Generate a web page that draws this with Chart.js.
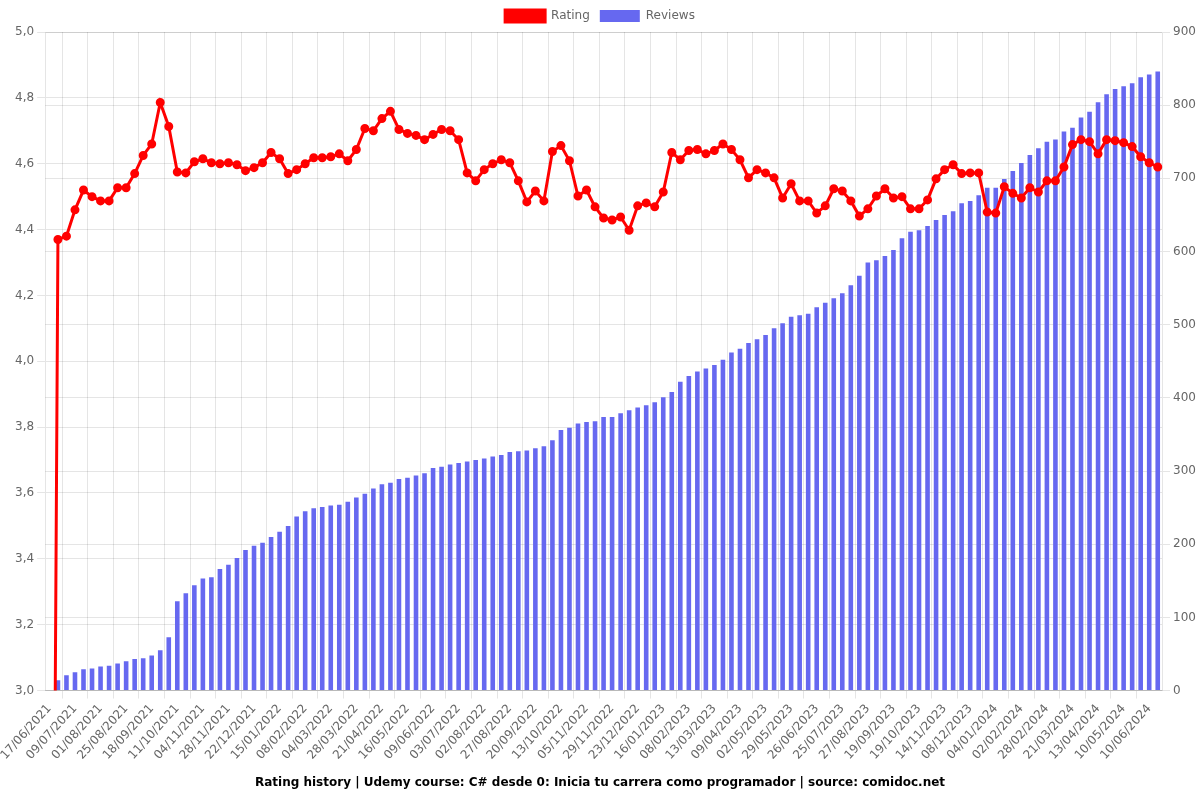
<!DOCTYPE html>
<html>
<head>
<meta charset="utf-8">
<script src="https://cdn.jsdelivr.net/npm/chart.js@4/dist/chart.umd.min.js"></script>
<style>
  html, body { margin: 0; padding: 0; background: #fff; }
  #wrap { width: 1200px; height: 800px; }
</style>
</head>
<body>
<div id="wrap"><canvas id="c"></canvas></div>
<script>
// Visible date tick labels (every 3rd category)
const tickLabels = [
  '17/06/2021','09/07/2021','01/08/2021','25/08/2021','18/09/2021','11/10/2021','04/11/2021','28/11/2021','22/12/2021',
  '15/01/2022','08/02/2022','04/03/2022','28/03/2022','21/04/2022','16/05/2022','09/06/2022','03/07/2022','02/08/2022',
  '27/08/2022','20/09/2022','13/10/2022','05/11/2022','29/11/2022','23/12/2022',
  '16/01/2023','08/02/2023','13/03/2023','09/04/2023','02/05/2023','29/05/2023','26/06/2023','25/07/2023','27/08/2023',
  '19/09/2023','19/10/2023','14/11/2023','08/12/2023',
  '04/01/2024','02/02/2024','28/02/2024','21/03/2024','13/04/2024','10/05/2024','10/06/2024'
];

const rating = [
  0, 4.37, 4.38, 4.46, 4.52, 4.50, 4.487, 4.487, 4.527, 4.527,
  4.57, 4.625, 4.66, 4.786, 4.713, 4.575, 4.572, 4.606, 4.615, 4.603,
  4.60, 4.603, 4.597, 4.579, 4.588, 4.603, 4.634, 4.615, 4.57, 4.582,
  4.60, 4.618, 4.618, 4.621, 4.63, 4.609, 4.643, 4.707, 4.70, 4.737,
  4.759, 4.704, 4.692, 4.686, 4.673, 4.689, 4.704, 4.70, 4.673, 4.572,
  4.548, 4.582, 4.60, 4.612, 4.603, 4.548, 4.484, 4.517, 4.487, 4.637,
  4.655, 4.609, 4.502, 4.52, 4.469, 4.435, 4.429, 4.438, 4.398, 4.472,
  4.481, 4.469, 4.514, 4.634, 4.612, 4.64, 4.643, 4.63, 4.64, 4.66,
  4.643, 4.612, 4.557, 4.582, 4.572, 4.557, 4.496, 4.539, 4.487, 4.487,
  4.45, 4.472, 4.524, 4.517, 4.487, 4.441, 4.463, 4.502, 4.524, 4.496,
  4.50, 4.463, 4.463, 4.49, 4.554, 4.582, 4.597, 4.57, 4.572, 4.572,
  4.453, 4.45, 4.53, 4.51, 4.496, 4.527, 4.514, 4.548, 4.548, 4.59,
  4.658, 4.673, 4.667, 4.63, 4.673, 4.67, 4.664, 4.652, 4.621, 4.603, 4.59
];

const reviews = [
  0, 14, 21, 25, 29, 30, 33, 34, 37, 40,
  43, 44, 48, 55, 73, 122, 133, 144, 153, 155,
  166, 172, 181, 192, 198, 202, 210, 217, 225, 238,
  245, 249, 251, 253, 254, 258, 264, 269, 276, 282,
  284, 289, 291, 294, 297, 304, 306, 309, 311, 313,
  315, 317, 320, 322, 326, 327, 328, 331, 334, 342,
  356, 359, 365, 367, 368, 374, 374, 379, 383, 387,
  390, 394, 401, 408, 422, 430, 436, 440, 445, 452,
  462, 467, 475, 480, 486, 495, 502, 511, 513, 515,
  524, 530, 536, 543, 554, 567, 585, 588, 594, 602,
  618, 627, 629, 635, 643, 650, 655, 666, 669, 677,
  687, 687, 699, 710, 721, 732, 741, 750, 753, 764,
  769, 783, 791, 804, 815, 822, 826, 830, 838, 842, 846
];

const ratingTicks = { min: 3, max: 5, step: 0.2 };
const reviewTicks = { min: 0, max: 900, step: 100 };

const categories = rating.map((_, i) => (i % 3 === 0 && tickLabels[i / 3]) ? tickLabels[i / 3] : '');

Chart.defaults.font.family = "'DejaVu Sans', sans-serif";
Chart.defaults.font.size = 12;
Chart.defaults.color = '#666';

const gridFn = (ctx) => (ctx.index % 3 === 2) ? 'rgba(0,0,0,0.1)' : 'rgba(0,0,0,0)';

new Chart(document.getElementById('c'), {
  type: 'bar',
  data: {
    labels: categories,
    datasets: [
      {
        type: 'line',
        label: 'Rating',
        data: rating,
        yAxisID: 'y',
        borderColor: 'rgb(255,0,0)',
        backgroundColor: 'rgb(255,0,0)',
        pointBackgroundColor: 'rgb(255,0,0)',
        pointBorderColor: 'rgb(255,0,0)',
        borderWidth: 3,
        pointRadius: 3,
        tension: 0
      },
      {
        type: 'bar',
        label: 'Reviews',
        data: reviews,
        yAxisID: 'y1',
        backgroundColor: 'rgb(102,104,240)',
        borderWidth: 0,
        barPercentage: 0.6,
        categoryPercentage: 0.9
      }
    ]
  },
  options: {
    responsive: true,
    maintainAspectRatio: false,
    animation: false,
    locale: 'es-ES',
    plugins: {
      legend: { position: 'top' },
      title: {
        display: true,
        position: 'bottom',
        text: 'Rating history | Udemy course: C# desde 0: Inicia tu carrera como programador | source: comidoc.net',
        color: '#000',
        font: { size: 12, weight: 'bold' }
      },
      tooltip: { enabled: false }
    },
    scales: {
      x: {
        offset: true,
        grid: { offset: true, color: gridFn, tickColor: gridFn },
        ticks: {
          autoSkip: false,
          maxRotation: 48,
          minRotation: 48,
          callback: function (v, i) { return categories[i]; }
        }
      },
      y: {
        position: 'left',
        min: ratingTicks.min,
        max: ratingTicks.max,
        ticks: { stepSize: ratingTicks.step }
      },
      y1: {
        position: 'right',
        min: reviewTicks.min,
        max: reviewTicks.max,
        ticks: { stepSize: reviewTicks.step },
        afterFit: (s) => { s.width = 38; }
      }
    }
  }
});
</script>
</body>
</html>
